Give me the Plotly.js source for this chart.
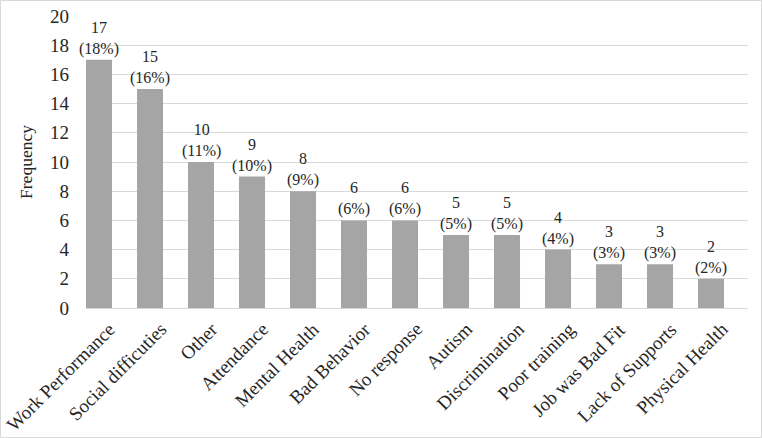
<!DOCTYPE html>
<html><head><meta charset="utf-8">
<script src="https://cdn.plot.ly/plotly-3.0.1.min.js"></script>
<style>html,body{margin:0;padding:0;background:#fff;}#chart{width:762px;height:438px;}</style>
</head><body><div id="chart"></div>
<script>
const categories = ["Work Performance","Social difficuties","Other","Attendance","Mental Health","Bad Behavior","No response","Autism","Discrimination","Poor training","Job was Bad Fit","Lack of Supports","Physical Health"];
const frequencies = [17,15,10,9,8,6,6,5,5,4,3,3,2];
const percents = [18,16,11,10,9,6,6,5,5,4,3,3,2];
const yTicks = [0,2,4,6,8,10,12,14,16,18,20];

const font = "'Liberation Serif', 'Times New Roman', serif";
const trace = {
  type: "bar",
  x: categories.map((c,i)=>i),
  y: frequencies,
  width: 0.51,
  marker: {color: "#a5a5a5"},
  hoverinfo: "none"
};
const valueLabels = categories.map((c,i)=>({
  x: i, y: frequencies[i], xref: "x", yref: "y",
  text: frequencies[i] + "<br>(" + percents[i] + "%)",
  showarrow: false, yanchor: "bottom", xanchor: "center",
  font: {family: font, size: 16, color: "#262626"}, yshift: 0
}));
const catLabels = categories.map((c,i)=>({
  x: i, y: 0, xref: "x", yref: "y",
  text: c, textangle: -45,
  showarrow: false, xanchor: "right", yanchor: "top",
  xshift: 22, yshift: -9, borderpad: 0,
  font: {family: font, size: 19, color: "#262626"}
}));
const L = 86, R = 14, T = 16, B = 130, W = 762, H = 438;
const pw = W - L - R, ph = H - T - B;
const shapes = [{
  type: "rect", xref: "paper", yref: "paper",
  x0: (-L + 0.5)/pw, x1: (W - L - 0.5)/pw,
  y0: (-B + 0.5)/ph, y1: (H - B - 0.5)/ph,
  line: {color: "#d9d9d9", width: 1}
}];
const layout = {
  width: W, height: H,
  margin: {l: L, r: R, t: T, b: B, pad: 0},
  paper_bgcolor: "#fff", plot_bgcolor: "#fff",
  showlegend: false,
  font: {family: font, color: "#262626"},
  xaxis: {
    range: [-0.255, 12.725],
    tickmode: "array", tickvals: categories.map((c,i)=>i), ticktext: categories,
    showticklabels: false,
    showgrid: false, zeroline: false, showline: true, linecolor: "#d9d9d9", linewidth: 1,
    ticks: "", fixedrange: true
  },
  yaxis: {
    range: [0, 20], tickmode: "array", tickvals: yTicks,
    tickfont: {family: font, size: 19, color: "#262626"},
    showgrid: true, gridcolor: "#d9d9d9", gridwidth: 1,
    zeroline: false, showline: false, ticks: "", ticklabelstandoff: 16,
    title: {text: "Frequency", font: {family: font, size: 17.5, color: "#262626"}, standoff: 12},
    fixedrange: true
  },
  annotations: valueLabels.concat(catLabels),
  shapes: shapes,
  bargap: 0.49
};
Plotly.newPlot("chart", [trace], layout, {displayModeBar: false, staticPlot: true});
</script></body></html>
